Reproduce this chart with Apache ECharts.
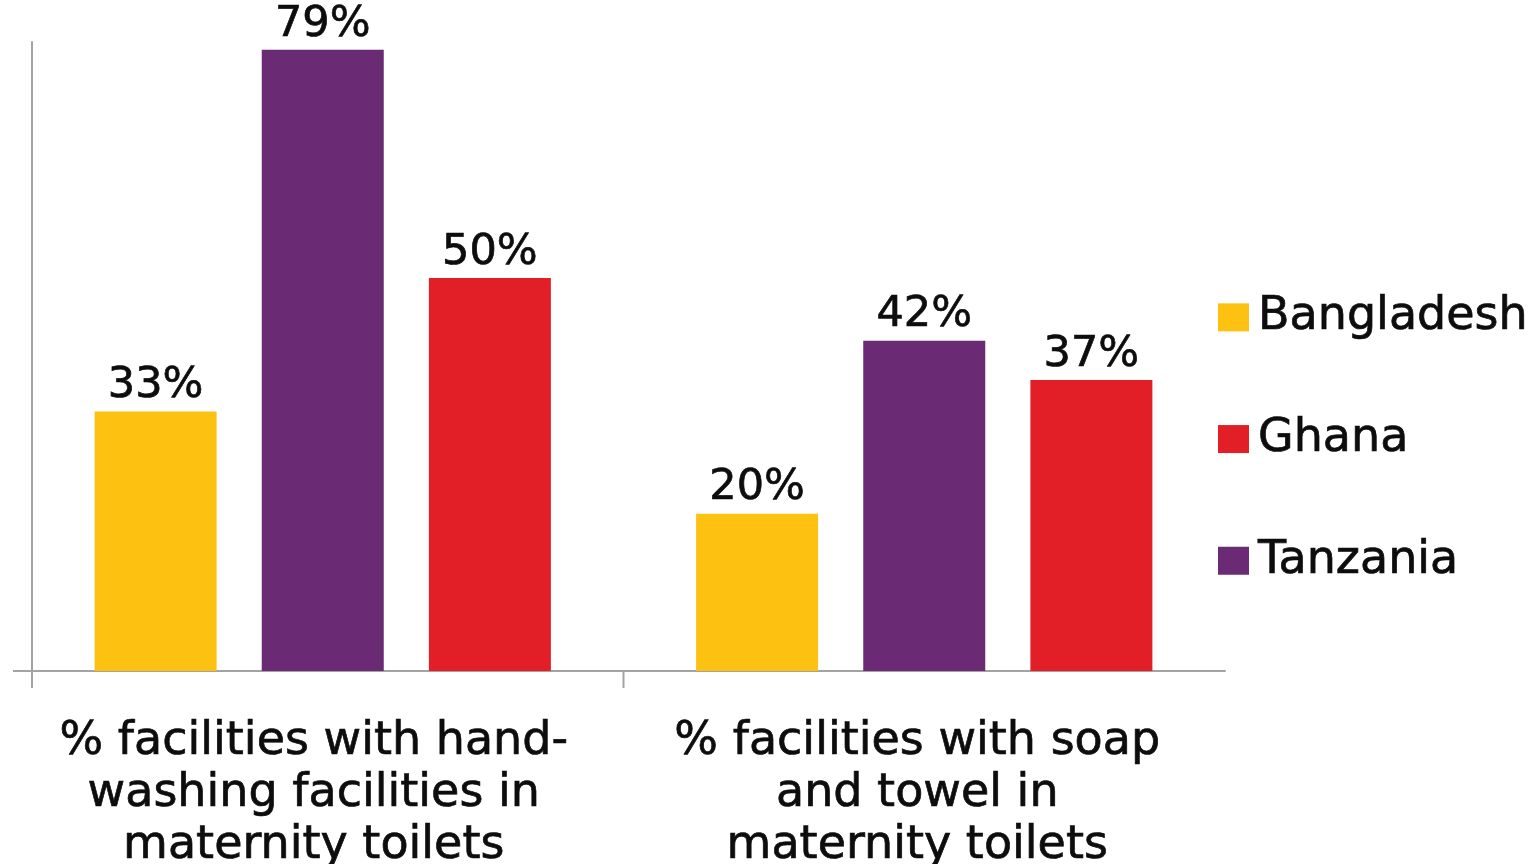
<!DOCTYPE html>
<html>
<head>
<meta charset="utf-8">
<script src="https://cdn.jsdelivr.net/npm/echarts@6/dist/echarts.min.js"></script>
<style>
  html, body { margin: 0; padding: 0; background: #ffffff; }
  #chart { width: 1537px; height: 864px; }
</style>
</head>
<body>
<div id="chart"></div>
<script>
// Hygiene indicators in maternity toilets, by country
const categories = [
  '% facilities with hand-\nwashing facilities in\nmaternity toilets',
  '% facilities with soap\nand towel in\nmaternity toilets'
];
const bangladesh = [33, 20];
const tanzania = [79, 42];
const ghana = [50, 37];
const legendOrder = ['Bangladesh', 'Ghana', 'Tanzania'];

const colors = { Bangladesh: '#FCC111', Tanzania: '#6A2A74', Ghana: '#E21F27' };
const axisGray = '#A3A3A3';
const inkColor = '#0d0d0d';
const font = 'DejaVu Sans';

const gridLeft = 22;
const yAxisShift = 10;   // value axis sits a little inside the grid edge
const tickLen = 17;

// slight stroke gives the labels a medium weight
const heavy = { textBorderColor: inkColor, textBorderWidth: 0.7 };

const chart = echarts.init(document.getElementById('chart'), null, { renderer: 'canvas' });

function barSeries(name, values) {
  return {
    name: name,
    type: 'bar',
    data: values,
    barWidth: 122,
    barGap: '37%',
    itemStyle: { color: colors[name] },
    label: Object.assign({
      show: true,
      position: 'top',
      distance: 4,
      formatter: '{c}%',
      color: inkColor,
      fontFamily: font,
      fontSize: 43
    }, heavy)
  };
}

// per-category label nudges so each block sits over its bar group
const labelPads = [[0, 18, 0, 0], [0, 14, 0, 0]];

chart.setOption({
  animation: false,
  backgroundColor: '#ffffff',
  grid: {
    left: gridLeft, right: 312, top: 42, bottom: 193,
    containLabel: false, outerBoundsMode: 'none'
  },
  legend: {
    data: legendOrder,
    orient: 'vertical',
    left: 1213,
    top: 289,
    itemWidth: 31,
    itemHeight: 28,
    itemGap: 75,
    icon: 'rect',
    textStyle: Object.assign({
      fontFamily: font, fontSize: 46, color: inkColor, lineHeight: 44, padding: [0, 0, 0, 4]
    }, heavy)
  },
  xAxis: {
    type: 'category',
    data: categories.map((c, i) => ({ value: c, textStyle: { padding: labelPads[i] } })),
    axisLine: { lineStyle: { color: axisGray, width: 2 } },
    axisTick: { show: false },
    axisLabel: Object.assign({
      interval: 0,
      margin: 45,
      fontFamily: font,
      fontSize: 46,
      lineHeight: 52,
      color: inkColor,
      align: 'center'
    }, heavy)
  },
  yAxis: {
    type: 'value',
    min: 0,
    max: 80,
    offset: -yAxisShift,
    axisLine: { show: true, lineStyle: { color: axisGray, width: 2 } },
    axisTick: { show: false },
    axisLabel: { show: false },
    splitLine: { show: false }
  },
  series: [
    barSeries('Bangladesh', bangladesh),
    barSeries('Tanzania', tanzania),
    barSeries('Ghana', ghana)
  ]
});

// axis cross: a short stub of the category line left of the value axis,
// the value axis running a tick's length below the baseline, and a tick
// on the boundary between the two category bands
const baseY = chart.convertToPixel({ yAxisIndex: 0 }, 0);
const c0 = chart.convertToPixel({ xAxisIndex: 0 }, 0);
const c1 = chart.convertToPixel({ xAxisIndex: 0 }, 1);
const yAxisX = gridLeft + yAxisShift;
const boundaryX = (c0 + c1) / 2;
const axisStroke = { stroke: axisGray, lineWidth: 2 };
chart.setOption({
  graphic: [
    { type: 'line', silent: true, style: axisStroke,
      shape: { x1: 13, y1: baseY, x2: gridLeft, y2: baseY } },
    { type: 'line', silent: true, style: axisStroke,
      shape: { x1: yAxisX, y1: baseY, x2: yAxisX, y2: baseY + tickLen } },
    { type: 'line', silent: true, style: axisStroke,
      shape: { x1: boundaryX, y1: baseY, x2: boundaryX, y2: baseY + tickLen } }
  ]
});
</script>
</body>
</html>
